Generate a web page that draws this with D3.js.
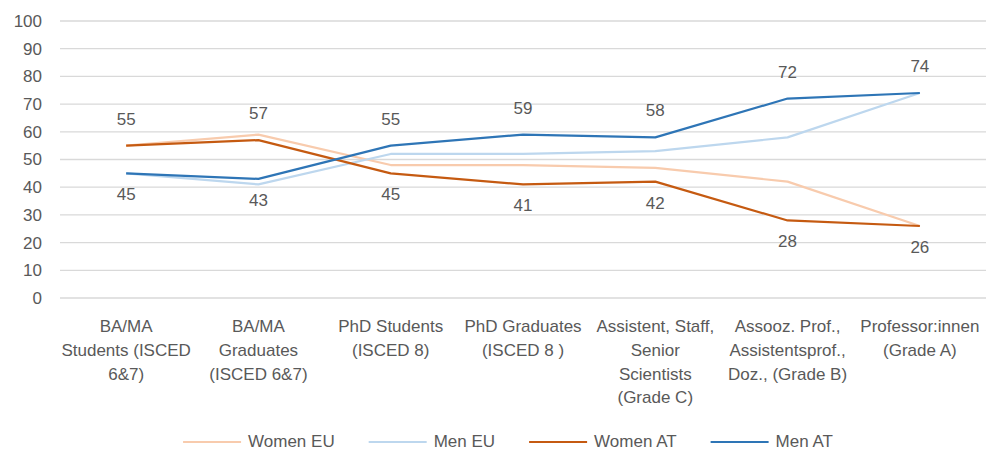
<!DOCTYPE html>
<html>
<head>
<meta charset="utf-8">
<script src="https://cdn.jsdelivr.net/npm/d3@7"></script>
<style>
  body { margin: 0; background: #fff; }
  text { font-family: "Liberation Sans", Arial, sans-serif; fill: #595959; }
</style>
</head>
<body>
<div id="chart"></div>
<script>
let categories = [
    ["BA/MA", "Students (ISCED", "6&7)"],
    ["BA/MA", "Graduates", "(ISCED 6&7)"],
    ["PhD Students", "(ISCED 8)"],
    ["PhD Graduates", "(ISCED 8 )"],
    ["Assistent, Staff,", "Senior", "Scientists", "(Grade C)"],
    ["Assooz. Prof.,", "Assistentsprof.,", "Doz., (Grade B)"],
    ["Professor:innen", "(Grade A)"]
];
let seriesNames = ["Women EU", "Men EU", "Women AT", "Men AT"];
let womenEU = [55, 59, 48, 48, 47, 42, 26];
let menEU = [45, 41, 52, 52, 53, 58, 74];
let womenAT = [55, 57, 45, 41, 42, 28, 26];
let menAT = [45, 43, 55, 59, 58, 72, 74];
let yTicks = [0, 10, 20, 30, 40, 50, 60, 70, 80, 90, 100];

let width = 987, height = 450;
let fontSize = 17;

let color = d3.scaleOrdinal()
    .domain(seriesNames)
    .range(["#f8cbad", "#bdd7ee", "#c55a11", "#2e75b6"]);

let series = [
    { name: "Women EU", values: womenEU, labels: false },
    { name: "Men EU", values: menEU, labels: false },
    { name: "Women AT", values: womenAT, labels: true, other: menAT },
    { name: "Men AT", values: menAT, labels: true, other: womenAT }
];

let svg = d3.select("#chart")
    .append("svg")
    .attr("width", width)
    .attr("height", height);

let x = d3.scaleBand()
    .domain(d3.range(categories.length))
    .range([60, 986]);

let y = d3.scaleLinear()
    .domain([0, 100])
    .range([298, 21]);

// gridlines + y labels
svg.append("g")
    .selectAll("line")
    .data(yTicks)
    .enter().append("line")
    .attr("x1", 60)
    .attr("x2", 986)
    .attr("y1", d => y(d))
    .attr("y2", d => y(d))
    .attr("stroke", "#d9d9d9")
    .attr("stroke-width", 1.3);

svg.append("g")
    .selectAll("text")
    .data(yTicks)
    .enter().append("text")
    .attr("x", 42)
    .attr("y", d => y(d))
    .attr("dy", "0.35em")
    .attr("text-anchor", "end")
    .style("font-size", fontSize + "px")
    .text(d => d);

// category labels
let catG = svg.append("g")
    .selectAll("text")
    .data(categories)
    .enter().append("text")
    .attr("text-anchor", "middle")
    .style("font-size", fontSize + "px");

catG.selectAll("tspan")
    .data((d, i) => d.map(line => ({ line: line, i: i })))
    .enter().append("tspan")
    .attr("x", d => x(d.i) + x.bandwidth() / 2)
    .attr("y", (d, j) => 326 + j * 23.8)
    .attr("dy", "0.35em")
    .text(d => d.line);

// lines
let line = d3.line()
    .x((d, i) => x(i) + x.bandwidth() / 2)
    .y(d => y(d));

svg.append("g")
    .selectAll("path")
    .data(series)
    .enter().append("path")
    .attr("d", d => line(d.values))
    .attr("fill", "none")
    .attr("stroke", d => color(d.name))
    .attr("stroke-width", 2.2)
    .attr("stroke-linejoin", "round");

// data labels (AT series)
series.filter(s => s.labels).forEach(function(s) {
    svg.append("g")
        .selectAll("text")
        .data(s.values)
        .enter().append("text")
        .attr("x", (d, i) => x(i) + x.bandwidth() / 2)
        .attr("y", (d, i) => d > s.other[i] ? y(d) - 27 : y(d) + 21)
        .attr("dy", "0.35em")
        .attr("text-anchor", "middle")
        .style("font-size", fontSize + "px")
        .text(d => d);
});

// legend
let legend = svg.append("g").attr("transform", "translate(0,441)");
let lineLen = 58, gap = 7, spacing = 34;
let items = legend.selectAll(".legend")
    .data(seriesNames)
    .enter().append("g")
    .attr("class", "legend");

items.append("line")
    .attr("x1", 0)
    .attr("x2", lineLen)
    .attr("y1", 1)
    .attr("y2", 1)
    .attr("stroke", d => color(d))
    .attr("stroke-width", 2.2);

items.append("text")
    .attr("x", lineLen + gap)
    .attr("dy", "0.35em")
    .style("font-size", fontSize + "px")
    .text(d => d);

let widths = [];
items.each(function() {
    widths.push(d3.select(this).select("text").node().getComputedTextLength());
});
let total = d3.sum(widths) + seriesNames.length * (lineLen + gap) + (seriesNames.length - 1) * spacing;
let pos = 508 - total / 2;
items.attr("transform", function(d, i) {
    let p = pos;
    pos += lineLen + gap + widths[i] + spacing;
    return "translate(" + p + ",0)";
});
</script>
</body>
</html>
